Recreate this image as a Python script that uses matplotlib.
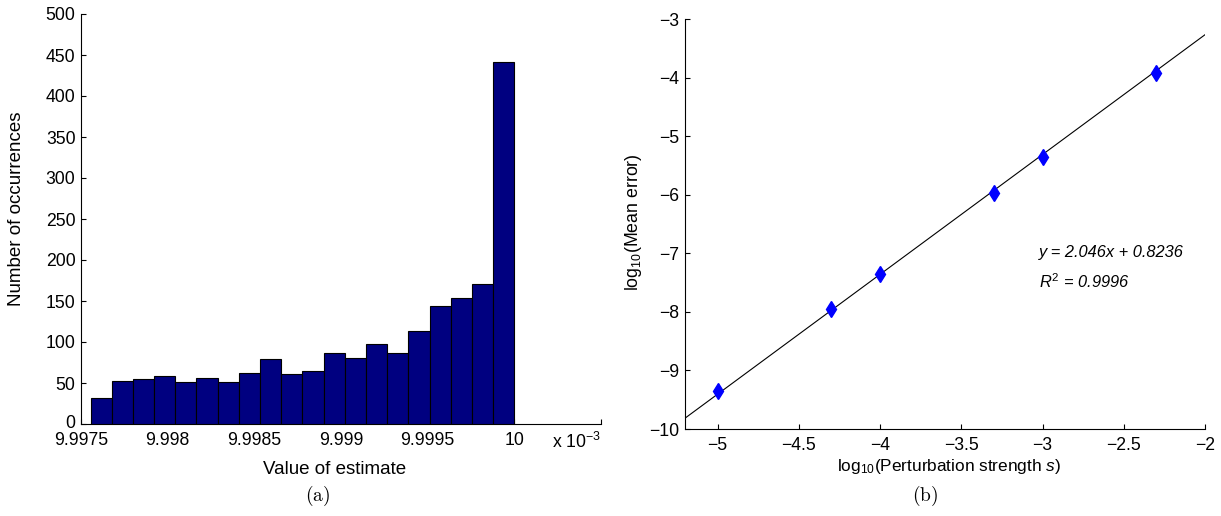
import numpy as np
import matplotlib
matplotlib.use("Agg")
import matplotlib.pyplot as plt
from matplotlib.ticker import FixedLocator, FixedFormatter
from matplotlib.transforms import ScaledTranslation

# ---------------- data ----------------
# (a) histogram of estimates (x in units of 1e-3)
hist_counts = [32, 53, 55, 59, 51, 56, 51, 62, 79, 61,
               65, 87, 81, 97, 87, 114, 144, 154, 171, 441]
hist_lo = 9.997555
hist_hi = 10.0
hist_xticks = [9.9975, 9.998, 9.9985, 9.999, 9.9995, 10.0, 10.0005]
hist_xticklabels = ["9.9975", "9.998", "9.9985", "9.999", "9.9995", "10", ""]
hist_yticks = list(range(0, 501, 50))

# (b) log-log error vs perturbation strength
log_s = [-5.0, -4.301, -4.0, -3.301, -3.0, -2.301]
log_err = [-9.35, -7.95, -7.35, -5.97, -5.35, -3.92]
fit_slope = 2.046
fit_intercept = 0.8236
fit_r2 = 0.9996
b_xticks = [-5, -4.5, -4, -3.5, -3, -2.5, -2]
b_yticks = [-10, -9, -8, -7, -6, -5, -4, -3]

# ---------------- style ----------------
plt.rcParams['font.family'] = ['Liberation Sans', 'DejaVu Sans']
plt.rcParams['mathtext.fontset'] = 'custom'
plt.rcParams['mathtext.rm'] = 'Liberation Sans'
plt.rcParams['mathtext.it'] = 'Liberation Sans:italic'
plt.rcParams['axes.unicode_minus'] = True
FS_TICK = 12.7
FS_LAB = 13.5
FS_ANN = 11.8

W, H = 1221, 516
fig = plt.figure(figsize=(W / 100, H / 100), dpi=100)


def ax_rect(l, t, r, b):
    return [l / W, 1 - b / H, (r - l) / W, (b - t) / H]


def style(ax):
    for s in ('top', 'right'):
        ax.spines[s].set_visible(False)
    for s in ('left', 'bottom'):
        ax.spines[s].set_linewidth(0.8)
    ax.tick_params(direction='in', length=3.6, width=0.8,
                   labelsize=FS_TICK, pad=2)


# ---------------- (a) ----------------
ax1 = fig.add_axes(ax_rect(81, 14, 601, 424))
edges = np.linspace(hist_lo, hist_hi, len(hist_counts) + 1)
ax1.bar(edges[:-1], hist_counts, width=np.diff(edges), align='edge',
        color='#000080', edgecolor='black', linewidth=0.8, zorder=3)
ax1.set_xlim(9.9975, 10.0005)
ax1.set_ylim(0, 500)
ax1.xaxis.set_major_locator(FixedLocator(hist_xticks))
ax1.xaxis.set_major_formatter(FixedFormatter(hist_xticklabels))
ax1.set_yticks(hist_yticks)
style(ax1)
ax1.tick_params(axis='y', pad=4)
ax1.tick_params(axis='x', pad=5.5)
# lift the "0" label slightly so it clears the first x tick label
zero_tick = ax1.yaxis.get_major_ticks()[0]
zero_tick.label1.set_transform(zero_tick.label1.get_transform() +
                               ScaledTranslation(0, 3 / 100,
                                                 fig.dpi_scale_trans))
ax1.text(1.0, -0.02, r"x 10$^{-3}$", transform=ax1.transAxes,
         ha='right', va='top', fontsize=FS_TICK)
fig.text(17 / W, 1 - 209 / H, "Number of occurrences", rotation=90,
         ha='center', va='center', fontsize=FS_LAB)
fig.text(335 / W, 1 - 469 / H, "Value of estimate", ha='center',
         va='center', fontsize=FS_LAB)
fig.text(318 / W, 1 - 496 / H, r"$\mathrm{(a)}$", ha='center', va='center',
         fontsize=14, math_fontfamily='cm')

# ---------------- (b) ----------------
ax2 = fig.add_axes(ax_rect(685, 19, 1205, 429))
xlim = (-5.2, -2.0)
xx = np.array(xlim)
ax2.plot(xx, fit_slope * xx + fit_intercept, color='black', linewidth=0.8,
         zorder=2)
ax2.plot(log_s, log_err, linestyle='none', marker='d', markersize=8.5,
         color='blue', markeredgecolor='blue', zorder=3)
ax2.set_xlim(*xlim)
ax2.set_ylim(-10, -3)
ax2.set_xticks(b_xticks)
ax2.set_yticks(b_yticks)
ax2.set_xticklabels([("%g" % v).replace('-', '\u2212') for v in b_xticks])
ax2.set_yticklabels([("%g" % v).replace('-', '\u2212') for v in b_yticks])
style(ax2)
ax2.tick_params(axis='y', pad=4)
ax2.tick_params(axis='x', pad=5.5)
ax2.text(-3.02, -6.99, "y = %.3fx + %.4f" % (fit_slope, fit_intercept),
         style='italic', fontsize=FS_ANN, ha='left', va='center')
ax2.text(-3.02, -7.48, r"$R^2$ = %.4f" % fit_r2, style='italic',
         fontsize=FS_ANN, ha='left', va='center')
fig.text(633 / W, 1 - 222 / H, r"log$_{10}$(Mean error)", rotation=90,
         ha='center', va='center', fontsize=12.8)
fig.text(949 / W, 1 - 467 / H, r"log$_{10}$(Perturbation strength $s$)",
         ha='center', va='center', fontsize=12.4)
fig.text(925 / W, 1 - 496 / H, r"$\mathrm{(b)}$", ha='center', va='center',
         fontsize=14, math_fontfamily='cm')

fig.savefig("out.png", dpi=100)
